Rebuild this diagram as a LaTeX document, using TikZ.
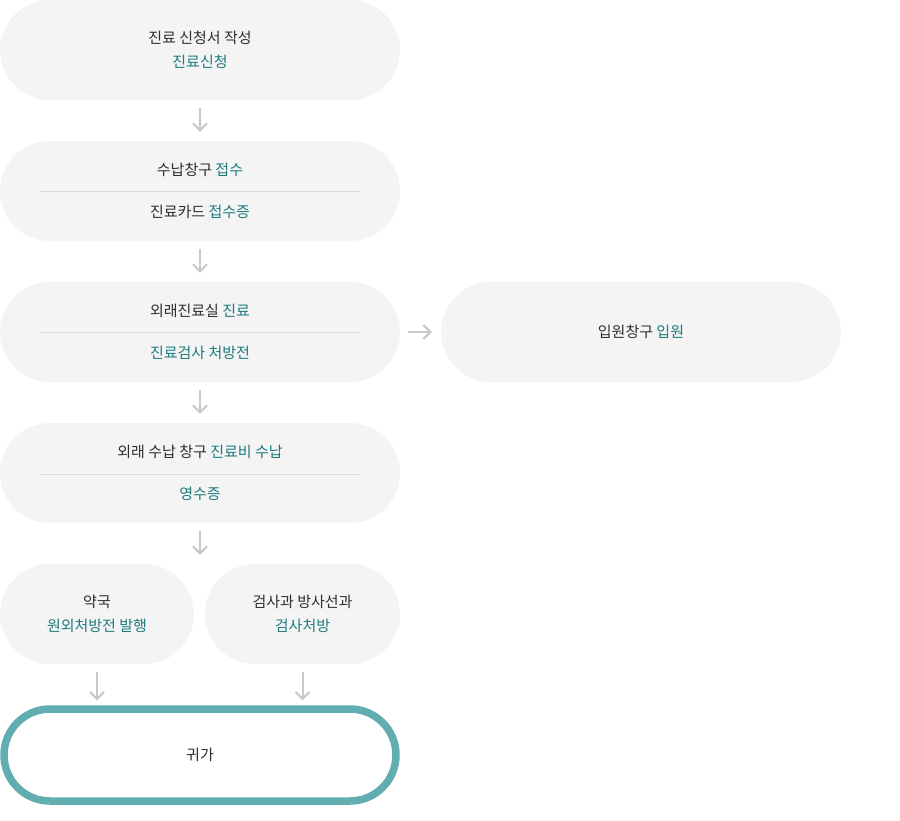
\documentclass[tikz,border=0pt]{standalone}
\usepackage{fontspec}
\setmainfont{Noto Sans CJK KR}
\usetikzlibrary{arrows.meta}
\definecolor{boxbg}{HTML}{F4F4F4}
\definecolor{teal1}{HTML}{1E7B7B}
\definecolor{dark}{HTML}{2E2E2E}
\definecolor{arr}{HTML}{C8C8C8}
\definecolor{divl}{HTML}{DADADA}
\definecolor{ring}{HTML}{62ADB0}
\tikzset{
  txt/.style={text=dark, font=\fontsize{15pt}{24pt}\selectfont, inner sep=0pt},
  pill/.style={fill=boxbg, draw=none, rounded corners=50pt, minimum height=100pt, inner sep=0pt, txt, align=center},
  flow/.style={draw=arr, line width=2pt, -{Straight Barb[length=7pt,width=14pt,line width=2pt]}, shorten <=8pt, shorten >=9pt},
  divider/.style={draw=divl, line width=0.8pt}
}
\newcommand{\hi}[1]{\textcolor{teal1}{#1}}
\begin{document}
\begin{tikzpicture}[x=1pt,y=-1pt]
\useasboundingbox (0,0) rectangle (900,820);
\node[pill, minimum width=400pt] (b1) at (200,50) {진료 신청서 작성\\\hi{진료신청}};
\node[pill, minimum width=400pt] (b2) at (200,191) {};
\node[txt] (b2t) at (200,170) {수납창구 \hi{접수}};
\node[txt] (b2b) at (200,212) {진료카드 \hi{접수증}};
\draw[divider] (40,191) -- (360,191);
\node[pill, minimum width=400pt] (b3) at (200,332) {};
\node[txt] (b3t) at (200,311) {외래진료실 \hi{진료}};
\node[txt, text=teal1] (b3b) at (200,353) {진료검사 처방전};
\draw[divider] (40,332) -- (360,332);
\node[pill, minimum width=400pt] (r) at (641,332) {입원창구 \hi{입원}};
\node[pill, minimum width=400pt] (b4) at (200,473) {};
\node[txt] (b4t) at (200,452) {외래 수납 창구 \hi{진료비 수납}};
\node[txt, text=teal1] (b4b) at (200,494) {영수증};
\draw[divider] (40,474) -- (360,474);
\node[pill, minimum width=194pt] (p) at (97,614) {약국\\\hi{원외처방전 발행}};
\node[pill, minimum width=195pt] (x) at (302.5,614) {검사과 방사선과\\\hi{검사처방}};
\node[draw=ring, line width=7.5pt, fill=white, rounded corners=46pt, minimum width=392pt, minimum height=92pt, inner sep=0pt, txt] (g) at (200,755) {귀가};
\draw[flow] (b1.south) -- (b2.north);
\draw[flow] (b2.south) -- (b3.north);
\draw[flow] (b3.south) -- (b4.north);
\draw[flow] (b4.south) -- (b4.south |- p.north);
\draw[flow] (b3.east) -- (r.west);
\draw[flow] (p.south) -- ([yshift=-4pt]p.south |- g.north);
\draw[flow] (x.south) -- ([yshift=-4pt]x.south |- g.north);
\end{tikzpicture}
\end{document}
